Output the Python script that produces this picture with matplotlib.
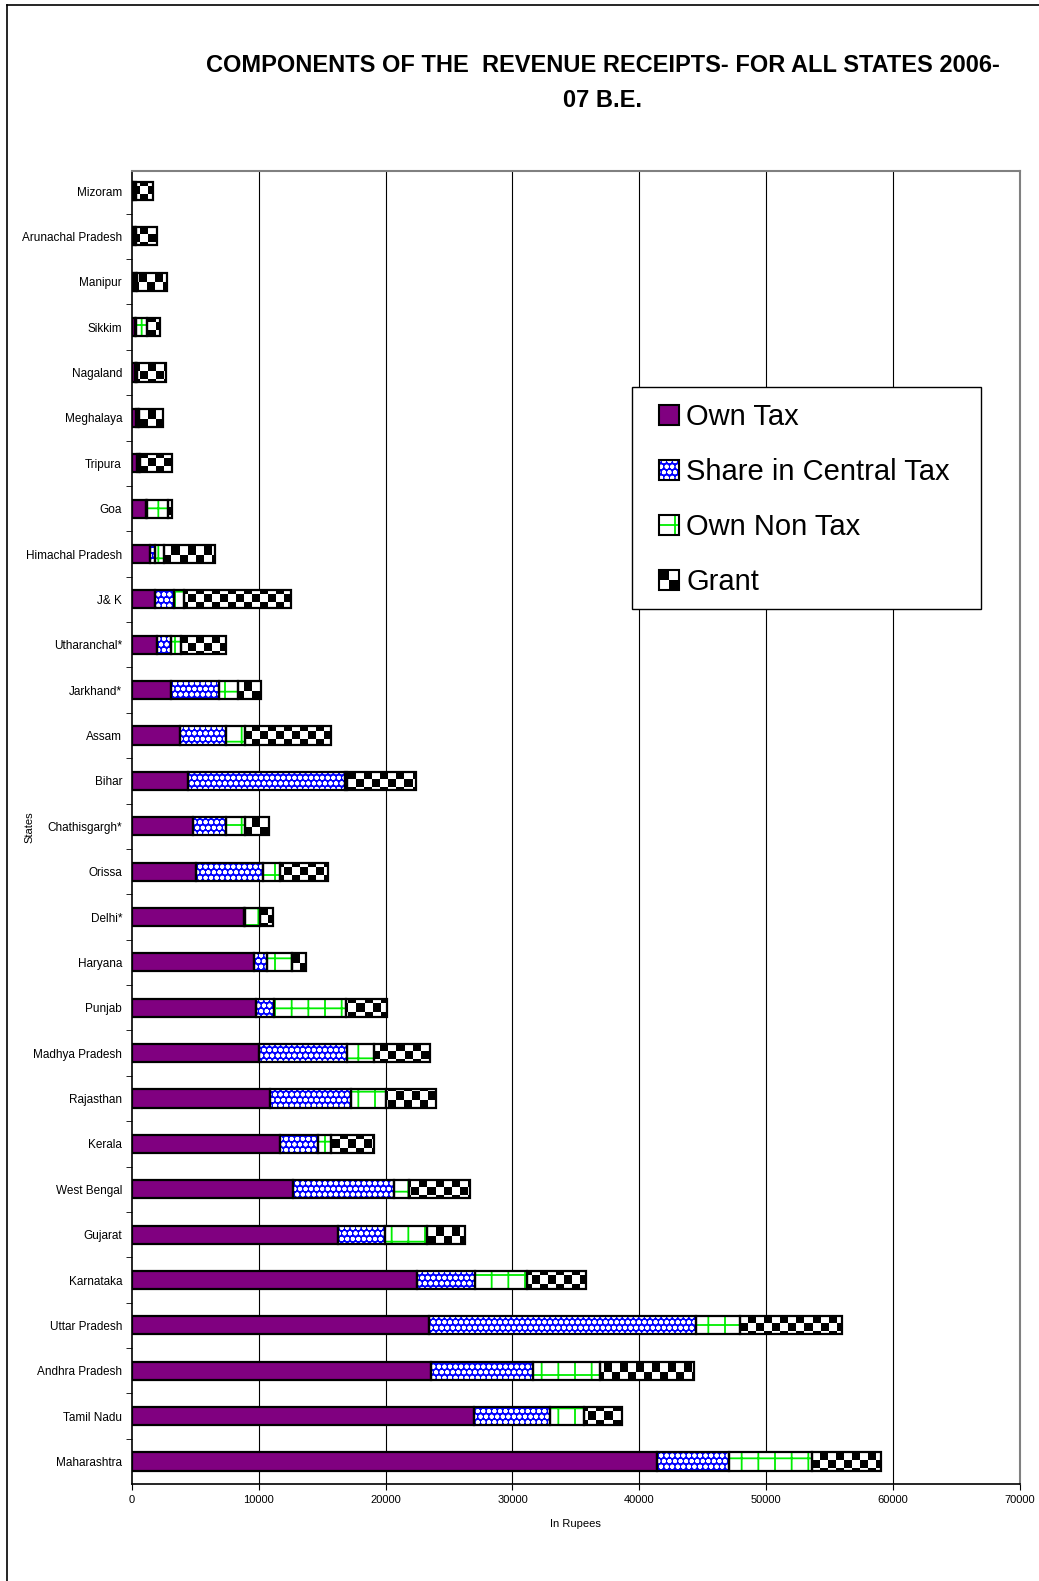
import numpy as np
import matplotlib
matplotlib.use("Agg")
import matplotlib.pyplot as plt
from matplotlib.patches import Patch, Rectangle
from matplotlib.lines import Line2D

plt.rcParams['font.family'] = ['Liberation Sans', 'DejaVu Sans']
plt.rcParams['hatch.linewidth'] = 1.3

# states, top to bottom as in the chart
states = ["Mizoram", "Arunachal Pradesh", "Manipur", "Sikkim", "Nagaland",
          "Meghalaya", "Tripura", "Goa", "Himachal Pradesh", "J& K",
          "Utharanchal*", "Jarkhand*", "Assam", "Bihar", "Chathisgargh*",
          "Orissa", "Delhi*", "Haryana", "Punjab", "Madhya Pradesh",
          "Rajasthan", "Kerala", "West Bengal", "Gujarat", "Karnataka",
          "Uttar Pradesh", "Andhra Pradesh", "Tamil Nadu", "Maharashtra"]

own_tax = [100, 100, 200, 250, 250, 350, 400, 1110, 1450, 1840,
           1970, 3100, 3820, 4470, 4790, 5080, 8840, 9600, 9790, 10050,
           10920, 11670, 12710, 16250, 22500, 23440, 23590, 26980, 41350]
central_tax = [100, 150, 150, 100, 50, 130, 150, 120, 390, 1500,
               1100, 3790, 3630, 12320, 2630, 5290, 80, 1050, 1450, 6920,
               6320, 2970, 7970, 3700, 4580, 20990, 8020, 5990, 5680]
own_non_tax = [100, 50, 100, 850, 100, 100, 100, 1600, 740, 740,
               820, 1450, 1480, 180, 1500, 1340, 1210, 2000, 5610, 2100,
               2760, 1040, 1200, 3330, 4060, 3490, 5260, 2660, 6610]
grant = [1400, 1700, 2350, 1000, 2330, 1900, 2560, 330, 3950, 8500,
         3550, 1810, 6760, 5450, 1900, 3790, 970, 1100, 3240, 4420,
         4000, 3440, 4790, 2970, 4630, 8070, 7400, 3020, 5420]

x_ticks = [0, 10000, 20000, 30000, 40000, 50000, 60000, 70000]

fig = plt.figure(figsize=(10.39, 15.81), dpi=100)
ax = fig.add_axes([0.1268, 0.0612, 0.855, 0.8309])

n = len(states)
y = np.arange(n)
h = 0.4
ylim = (n - 0.5, -0.45)

left = np.zeros(n)
# own tax - solid purple
ax.barh(y, own_tax, left=left, height=h, color="#800080", lw=0, zorder=2)
ax.barh(y, own_tax, left=left, height=h, fill=False, edgecolor="black", lw=1.6, zorder=5)
left = left + np.array(own_tax)

# share in central tax - blue with white dots
ax.barh(y, central_tax, left=left, height=h, facecolor="#0000ff", edgecolor="white",
        hatch="ooo", lw=0, zorder=2)
ax.barh(y, central_tax, left=left, height=h, fill=False, edgecolor="black", lw=1.6, zorder=5)
left = left + np.array(central_tax)

# own non tax - white with green bricks
ax.barh(y, own_non_tax, left=left, height=h, facecolor="white", edgecolor="#00ee00",
        hatch="+", lw=0, zorder=2)
ax.barh(y, own_non_tax, left=left, height=h, fill=False, edgecolor="black", lw=1.6, zorder=5)
left = left + np.array(own_non_tax)

# grant - checkerboard, clipped image inside each bar
gbars = ax.barh(y, grant, left=left, height=h, facecolor="white", lw=0, zorder=2)
ax_w = 0.855 * 1039
ax_h = 0.8309 * 1581
cell = 8
checker = np.indices((int(ax_h / cell), int(ax_w / cell))).sum(axis=0) % 2
for p in gbars.patches:
    im = ax.imshow(checker, cmap="gray", vmin=0, vmax=1, interpolation="nearest",
                   extent=(0, 70000, ylim[0], ylim[1]), aspect="auto", zorder=3)
    im.set_clip_path(p)
ax.barh(y, grant, left=left, height=h, fill=False, edgecolor="black", lw=1.6, zorder=5)

ax.set_xlim(0, 70000)
ax.set_ylim(*ylim)
ax.set_aspect("auto")
ax.set_xticks(x_ticks)
ax.set_xticklabels([str(v) for v in x_ticks], fontsize=8)
ax.set_yticks(y)
ax.set_yticklabels(states, fontsize=8.5)
ax.set_yticks(y[:-1] + 0.5, minor=True)
ax.tick_params(axis="y", which="major", length=0, pad=7)
ax.tick_params(axis="y", which="minor", length=4, direction="out", color="black")
ax.tick_params(axis="x", length=4, direction="out", pad=4)

for xv in x_ticks[1:-1]:
    ax.axvline(xv, color="black", lw=0.8, zorder=1)

for s in ["top", "right"]:
    ax.spines[s].set_color("#808080")
    ax.spines[s].set_linewidth(1.5)
for s in ["left", "bottom"]:
    ax.spines[s].set_color("black")
    ax.spines[s].set_linewidth(1.2)

ax.set_xlabel("In Rupees", fontsize=8, labelpad=10)
ax.set_ylabel("States", fontsize=8)
ax.yaxis.set_label_coords(-0.110, 0.5)


class CheckerHandler:
    def legend_artist(self, legend, orig_handle, fontsize, handlebox):
        x0, y0 = -handlebox.xdescent, -handlebox.ydescent
        w, hh = handlebox.width, handlebox.height
        tr = handlebox.get_transform()
        handlebox.add_artist(Rectangle((x0, y0), w, hh, facecolor="white", lw=0, transform=tr))
        handlebox.add_artist(Rectangle((x0, y0 + hh / 2), w / 2, hh / 2, facecolor="black", lw=0, transform=tr))
        handlebox.add_artist(Rectangle((x0 + w / 2, y0), w / 2, hh / 2, facecolor="black", lw=0, transform=tr))
        border = Rectangle((x0, y0), w, hh, fill=False, edgecolor="black", lw=1.5, transform=tr)
        handlebox.add_artist(border)
        return border


# legend box drawn separately, legend itself without frame
ax.add_patch(Rectangle((0.5629, 0.6663), 0.9555 - 0.5629, 0.8356 - 0.6663,
                       transform=ax.transAxes, facecolor="white", edgecolor="black",
                       lw=1.0, zorder=9))

border_h = Patch(fill=False, edgecolor="black", lw=1.5)
h_own = (Patch(facecolor="#800080", lw=0), border_h)
h_cen = (Patch(facecolor="#0000ff", edgecolor="white", hatch="ooo", lw=0), border_h)
h_non = (Patch(facecolor="white", edgecolor="#00ee00", hatch="+", lw=0), border_h)
h_grant = Patch(facecolor="white")

leg = ax.legend([h_own, h_cen, h_non, h_grant],
                ["Own Tax", "Share in Central Tax", "Own Non Tax", "Grant"],
                handler_map={h_grant: CheckerHandler()},
                loc="upper left", bbox_to_anchor=(0.5936, 0.823),
                borderaxespad=0, borderpad=0, fontsize=21, frameon=False,
                handlelength=0.69, handleheight=0.69, handletextpad=0.25,
                labelspacing=0.93)
leg.set_zorder(10)

fig.text(0.58, 1 - 83 / 1581, "COMPONENTS OF THE  REVENUE RECEIPTS- FOR ALL STATES 2006-\n07 B.E.",
         ha="center", va="center", fontsize=17, fontweight="bold", linespacing=1.62)

# page border (left and top)
fig.add_artist(Line2D([6.7 / 1039, 6.7 / 1039], [0, 1 - 5.3 / 1581], color="black", lw=1.2))
fig.add_artist(Line2D([6.7 / 1039, 1], [1 - 5.3 / 1581, 1 - 5.3 / 1581], color="black", lw=1.2))

fig.savefig("out.png", dpi=100)
